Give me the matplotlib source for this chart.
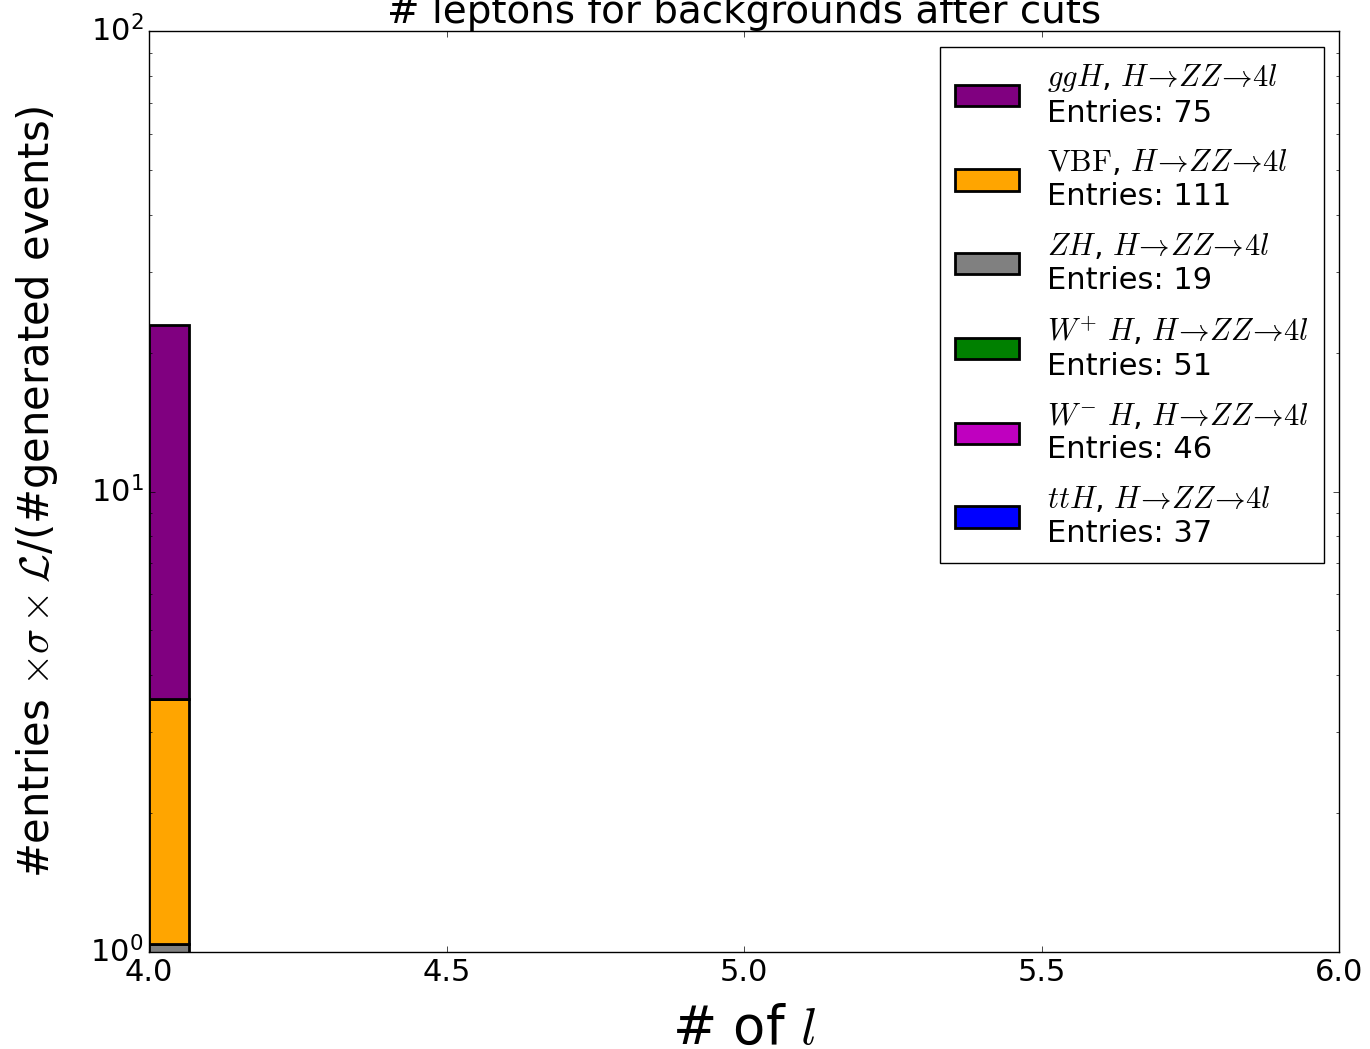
import matplotlib
matplotlib.use('Agg')
import matplotlib.pyplot as plt
import numpy as np

plt.style.use('classic')

# Stack order: bottom to top (legend shows reverse order).
samples = ['ttH', 'W-H', 'W+H', 'ZH', 'VBF', 'ggH']
decay = r'$H\!\rightarrow\!ZZ\!\rightarrow\!4l$'
labels = [r'$ttH$, ' + decay + '\nEntries: 37',
          r'$W^{-}\ H$, ' + decay + '\nEntries: 46',
          r'$W^{+}\ H$, ' + decay + '\nEntries: 51',
          r'$ZH$, ' + decay + '\nEntries: 19',
          r'$\mathrm{VBF}$, ' + decay + '\nEntries: 111',
          r'$ggH$, ' + decay + '\nEntries: 75']
colors = ['blue', 'm', 'green', 'gray', 'orange', 'purple']
n_leptons = [4.0, 4.0, 4.0, 4.0, 4.0, 4.0]
weights = [0.08, 0.12, 0.15, 0.69, 2.5, 19.5]   # weighted yield in the 4-lepton bin

bins = np.linspace(4, 6, 31)

fig = plt.figure(figsize=(13.7, 10.49), dpi=100)
ax = fig.add_axes([0.1088, 0.0925, 0.8686, 0.8775])

ax.hist([[v] for v in n_leptons], bins=bins,
        weights=[[w] for w in weights],
        stacked=True, color=colors, label=labels,
        histtype='bar', edgecolor='black', linewidth=2, rwidth=1.0)

ax.set_yscale('log')
ax.set_ylim(1, 100)
ax.set_xlim(4, 6)
ax.tick_params(labelsize=22)

ax.set_title('# leptons for backgrounds after cuts', fontsize=28, pad=6)
ax.set_xlabel(r'# of $l$', fontsize=38)
ax.xaxis.set_label_coords(0.5, -0.055)
ax.set_ylabel(r'#entries $\times\sigma\times\mathcal{L}$/(#generated events)', fontsize=30)
ax.yaxis.set_label_coords(-0.075, 0.5)

handles, labs = ax.get_legend_handles_labels()
ax.legend(handles[::-1], labs[::-1], loc='upper right', fontsize=22,
          handlelength=2.1, handleheight=0.7, labelspacing=0.65,
          handletextpad=0.9, borderpad=0.5, borderaxespad=0.5)

plt.savefig('out.png', dpi=100)
plt.close()
